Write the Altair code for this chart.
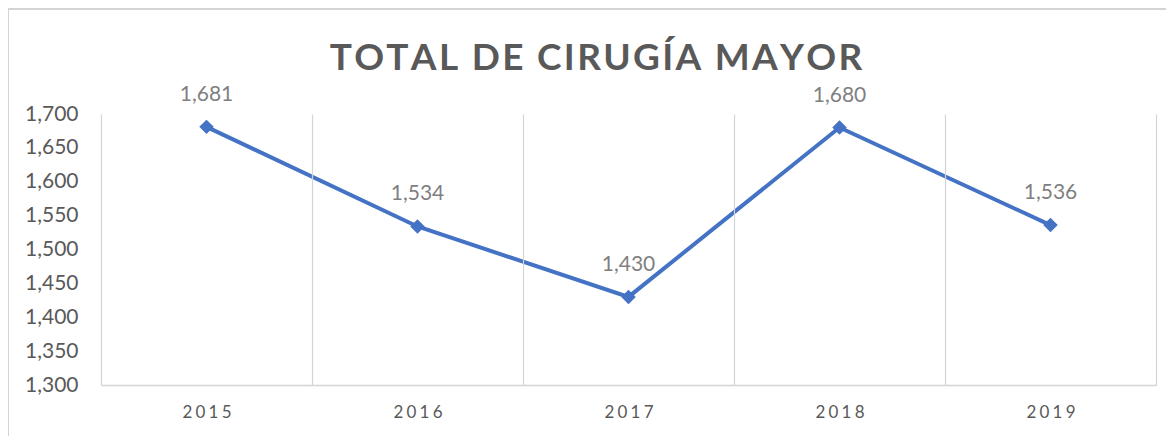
import altair as alt
import pandas as pd

years = ["2015", "2016", "2017", "2018", "2019"]
values = [1681, 1534, 1430, 1680, 1536]
title_text = "TOTAL DE CIRUGÍA MAYOR"

df = pd.DataFrame({"year": years, "value": values})

W, H = 1055, 271
FONT = "Lato"
BLUE = "#4472C4"
GRID = "#d4d4d4"
AXIS_TXT = "#595959"

spaced_title = "\u200a".join(title_text)

x_enc = alt.X(
    "year:N",
    sort=years,
    scale=alt.Scale(paddingInner=0, paddingOuter=0),
    axis=alt.Axis(
        title=None,
        labelAngle=0,
        tickBand="extent",
        ticks=False,
        grid=True,
        gridColor=GRID,
        gridWidth=1.2,
        domainColor=GRID,
        domainWidth=1.5,
        labelFont=FONT,
        labelFontSize=17,
        labelColor=AXIS_TXT,
        labelPadding=19,
        labelExpr="replace(datum.label, regexp('(\\\\d)(?=\\\\d)', 'g'), '$1\u2009\u200a')",
        zindex=1,
    ),
)
y_enc = alt.Y(
    "value:Q",
    scale=alt.Scale(domain=[1300, 1700], nice=False, zero=False),
    axis=alt.Axis(
        title=None,
        values=list(range(1300, 1701, 50)),
        format=",d",
        grid=False,
        ticks=False,
        domain=False,
        labelFont=FONT,
        labelFontSize=21,
        labelColor=AXIS_TXT,
        labelPadding=23,
        zindex=1,
    ),
)

base = alt.Chart(df).encode(x=x_enc, y=y_enc)

line = base.mark_line(color=BLUE, strokeWidth=4)
pts = base.mark_point(shape="diamond", filled=True, size=210, color=BLUE, opacity=1)
labels = base.mark_text(
    font=FONT, fontSize=21, color="#7f7f7f", baseline="middle", dy=-32
).encode(text=alt.Text("value:Q", format=","))

frame = alt.Chart(df).mark_rect(
    fill="transparent", fillOpacity=0, stroke=GRID, strokeWidth=1.5
).encode(
    x=alt.value(-93), x2=alt.value(W + 40), y=alt.value(-105), y2=alt.value(H + 100)
)

title = alt.Chart(pd.DataFrame({"t": [spaced_title]})).mark_text(
    font=FONT, fontSize=37, fontWeight="bold", color=AXIS_TXT,
    align="center", baseline="alphabetic",
).encode(text="t:N", x=alt.value(495), y=alt.value(-44))

chart = alt.layer(frame, line, pts, labels, title).properties(
    width=W,
    height=H,
    autosize=alt.AutoSizeParams(type="none"),
    padding={"left": 93, "top": 106, "right": 10, "bottom": 60},
).configure_view(stroke=None)

chart.save("out.html", embed_options={"renderer": "svg", "actions": False})
